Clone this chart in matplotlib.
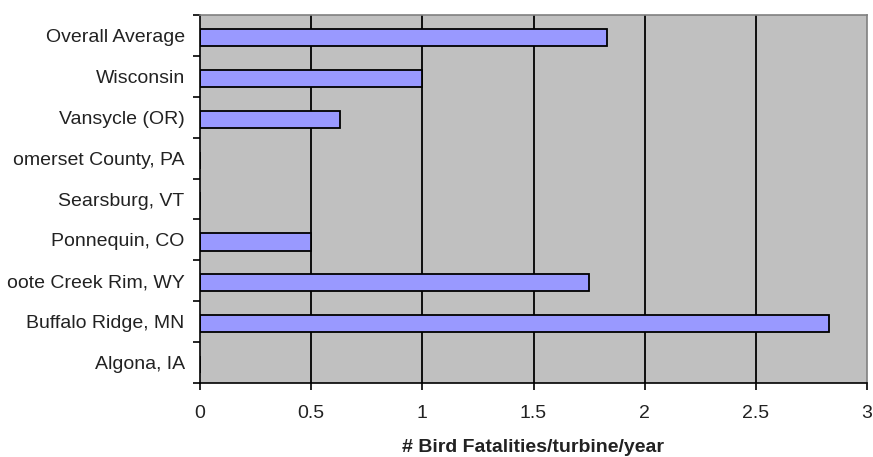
import numpy as np
import matplotlib.pyplot as plt
import matplotlib.ticker as ticker

# sites, listed bottom -> top as in the original chart
# (two names are cut at the left edge in the source picture; kept as shown there)
sites = ["Algona, IA", "Buffalo Ridge, MN", "oote Creek Rim, WY", "Ponnequin, CO",
         "Searsburg, VT", "omerset County, PA", "Vansycle (OR)", "Wisconsin",
         "Overall Average"]
fatalities = [0, 2.83, 1.75, 0.5, 0, 0, 0.63, 1.0, 1.83]
xticks = [0, 0.5, 1, 1.5, 2, 2.5, 3]
xticklabels = ["0", "0.5", "1", "1.5", "2", "2.5", "3"]

plt.rcParams['font.family'] = ['Liberation Sans', 'DejaVu Sans']

fig = plt.figure(figsize=(8.73, 4.57), dpi=100, facecolor="w")
ax = fig.add_axes([200/873, 1-383/457, 667/873, 368/457])
ax.set_facecolor("#c0c0c0")

y = np.arange(len(sites))
ax.set_xlim(0, 3)
ax.set_ylim(-0.5, len(sites)-0.5)

# vertical grid lines
for xv in xticks[1:-1]:
    ax.axvline(xv, color="black", lw=1.3, zorder=1)

ax.barh(y-0.05, fatalities, height=0.42, color="#9999ff", edgecolor="black",
        linewidth=1.3, zorder=2)

ax.set_xticks(xticks)
ax.set_xticklabels(xticklabels)
ax.set_yticks(y)
ax.set_yticklabels(sites)
ax.yaxis.set_minor_locator(ticker.FixedLocator(np.arange(-0.5, len(sites), 1)))
ax.tick_params(axis="y", which="major", length=0, pad=11, labelsize=14, labelcolor="#222222")
ax.tick_params(axis="y", which="minor", length=5, width=1.2, direction="out")
ax.tick_params(axis="x", length=5, width=1.2, direction="out", pad=11, labelsize=14,
               labelcolor="#222222")

for s in ["top", "right"]:
    ax.spines[s].set_color("#808080")
    ax.spines[s].set_linewidth(1.2)
for s in ["left", "bottom"]:
    ax.spines[s].set_color("black")
    ax.spines[s].set_linewidth(1.2)

ax.set_xlabel("# Bird Fatalities/turbine/year", fontsize=14, fontweight="bold",
              color="#222222", labelpad=12)

fig.savefig("out.png", dpi=100)
